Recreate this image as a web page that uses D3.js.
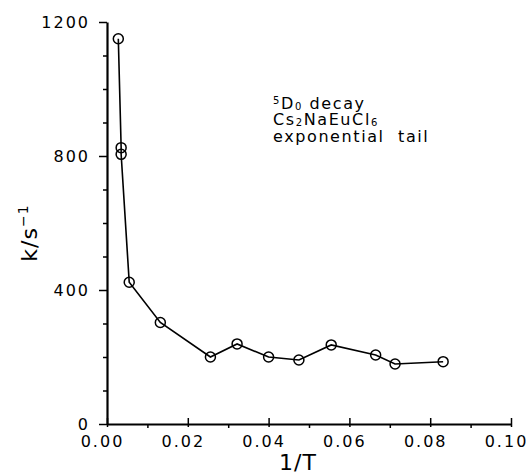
<!DOCTYPE html>
<html>
<head>
<meta charset="utf-8">
<script src="https://cdn.jsdelivr.net/npm/d3@7"></script>
<style>
    body { margin: 0; background: #fff; }
    svg { display: block; }
    text { font-family: "DejaVu Sans", sans-serif; fill: #000; }
</style>
</head>
<body>
<div id="chart"></div>
<script>
/* Chart data. */
const invT = [0.0028, 0.0035, 0.0035, 0.0055, 0.0132, 0.0256, 0.0322, 0.0400, 0.0475, 0.0555, 0.0665, 0.0713, 0.0832];
const rate = [1150, 825, 805, 423, 303, 200, 239, 200, 191, 236, 206, 179, 186];
const xTicks = [0, 0.02, 0.04, 0.06, 0.08, 0.10];
const yTicks = [0, 400, 800, 1200];

// Annotation lines, split into [text, shift] pieces (shift: 0 normal, 1 sub, -1 super).
const annotation = [
    [['5', -1], ['D', 0], ['0', 1], ['\u00a0decay', 0]],
    [['Cs', 0], ['2', 1], ['NaEuCl', 0], ['6', 1]],
    [['exponential\u00a0\u00a0tail', 0]]
];

/* Chart creation values. */
const W = 529, H = 476;
const margin = {top: 22, right: 18, bottom: 52, left: 107};
const width = W - margin.left - margin.right;
const height = H - margin.top - margin.bottom;

const svg = d3.select('#chart').append('svg')
    .attr('width', W)
    .attr('height', H);

const g = svg.append('g')
    .attr('transform', 'translate(' + margin.left + ',' + margin.top + ')');

// Scales.
const x = d3.scaleLinear().domain([0, 0.1]).range([0, width]);
const y = d3.scaleLinear().domain([0, 1200]).range([height, 0]);

// Y axis: outward ticks, minor every 100.
g.append('g')
    .call(d3.axisLeft(y).tickValues(yTicks).tickSize(8).tickSizeOuter(0).tickPadding(9).tickFormat(d3.format('d')));
g.append('g')
    .call(d3.axisLeft(y).tickValues(d3.range(100, 1200, 100).filter(v => v % 400 !== 0)).tickSize(4).tickFormat(''))
    .select('.domain').remove();

// X axis: major ticks cross the line, minor every 0.01.
const xAxis = g.append('g')
    .attr('transform', 'translate(0,' + height + ')')
    .call(d3.axisBottom(x).tickValues(xTicks).tickSize(0).tickSizeOuter(0).tickPadding(12).tickFormat(d3.format('.2f')));
xAxis.selectAll('.tick line').attr('y1', -6).attr('y2', 3);
xAxis.selectAll('.tick text').attr('dx', -5);
g.append('g')
    .attr('transform', 'translate(0,' + height + ')')
    .call(d3.axisBottom(x).tickValues(d3.range(0.01, 0.1, 0.02)).tickSize(4).tickFormat(''))
    .select('.domain').remove();

// Axis styling.
g.selectAll('.domain').attr('stroke-width', 2.2);
g.selectAll('.tick line').attr('stroke-width', 1.5);
g.selectAll('.tick text')
    .style('font-size', '16px')
    .style('letter-spacing', '2px');

// Line through the points.
const line = d3.line()
    .x((d, i) => x(invT[i]))
    .y(d => y(d));

g.append('path')
    .datum(rate)
    .attr('fill', 'none')
    .attr('stroke', '#000')
    .attr('stroke-width', 1.6)
    .attr('d', line);

// Open circle markers.
g.selectAll('circle')
    .data(rate)
    .enter()
    .append('circle')
    .attr('cx', (d, i) => x(invT[i]))
    .attr('cy', d => y(d))
    .attr('r', 5)
    .attr('fill', 'none')
    .attr('stroke', '#000')
    .attr('stroke-width', 1.5);

// Axis titles.
svg.append('text')
    .attr('transform', 'translate(37,233) rotate(-90)')
    .attr('text-anchor', 'middle')
    .style('font-size', '22px')
    .style('letter-spacing', '1px')
    .html('k/s<tspan dy="-9" font-size="14">\u22121</tspan>');

svg.append('text')
    .attr('x', 298)
    .attr('y', 470)
    .attr('text-anchor', 'middle')
    .style('font-size', '22px')
    .style('letter-spacing', '1px')
    .text('1/T');

// Annotation block, one text element with a line per tspan group.
const note = svg.append('text')
    .attr('x', 273)
    .attr('y', 109)
    .style('font-size', '16px')
    .style('letter-spacing', '1.6px');

annotation.forEach(function (parts, row) {
    let offset = 0;
    parts.forEach(function (p, j) {
        const shift = p[1] === 1 ? 1 : p[1] === -1 ? -5 : 0;
        const t = note.append('tspan')
            .attr('dy', (j === 0 && row > 0 ? 16 : 0) + shift - offset)
            .text(p[0]);
        if (j === 0) t.attr('x', 273);
        if (p[1] !== 0) t.style('font-size', '10px');
        offset = shift;
    });
    // Return to the line's baseline before the next row.
    if (offset !== 0) note.append('tspan').attr('dy', -offset).text('');
});
</script>
</body>
</html>
